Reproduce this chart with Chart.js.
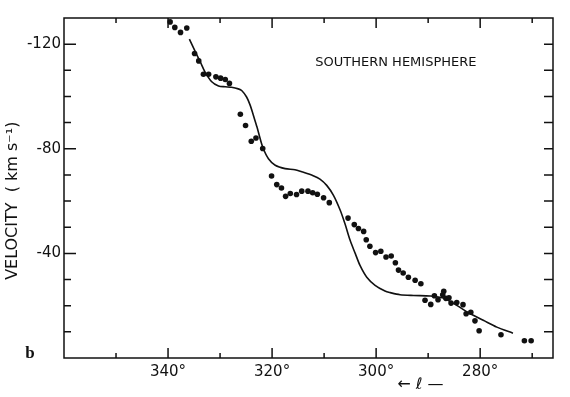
<!DOCTYPE html>
<html>
<head>
<meta charset="utf-8">
<script src="https://cdn.jsdelivr.net/npm/chart.js@4.4.1/dist/chart.umd.min.js"></script>
<style>
  html, body { margin: 0; padding: 0; background: #fff; }
  #wrap { width: 570px; height: 397px; }
</style>
</head>
<body>
<div id="wrap"><canvas id="chartjs"></canvas></div>
<script>
// observed HI points (galactic longitude, velocity)
const longitudes = [339.6, 338.7, 337.6, 336.4, 334.9, 334.1, 333.2, 332.2, 330.8, 329.9,
  329.0, 328.2, 326.1, 325.1, 324.0, 323.1, 321.8, 320.1, 319.1, 318.2,
  317.4, 316.5, 315.3, 314.3, 313.1, 312.2, 311.3, 310.1, 309.0, 305.4,
  304.2, 303.4, 302.4, 301.9, 301.2, 300.1, 299.1, 298.1, 297.1, 296.3,
  295.7, 294.8, 293.8, 292.5, 291.4, 290.6, 289.5, 288.8, 288.1, 287.2,
  287.0, 286.6, 286.0, 285.6, 284.5, 283.3, 282.7, 281.8, 281.0, 280.2,
  276.0, 271.5, 270.2];
const velocities = [-128.5, -126.4, -124.5, -126.2, -116.4, -113.6, -108.5, -108.5, -107.5, -107.0,
  -106.5, -105.0, -93.2, -88.9, -82.9, -84.1, -80.1, -69.6, -66.3, -65.0,
  -61.8, -62.9, -62.5, -63.8, -63.8, -63.2, -62.6, -61.3, -59.4, -53.5,
  -51.0, -49.5, -48.4, -45.2, -42.7, -40.3, -40.8, -38.6, -39.0, -36.4,
  -33.6, -32.5, -30.9, -29.7, -28.4, -22.1, -20.5, -23.8, -22.3, -24.2,
  -25.5, -22.8, -23.0, -21.0, -21.2, -20.4, -16.9, -17.5, -14.2, -10.4,
  -8.9, -6.6, -6.6];

// model curve
const modelLongitudes = [335.9, 334.9, 333.8, 332.9, 331.6, 330.3, 329.0, 327.8, 326.5, 325.8,
  324.9, 324.2, 323.6, 322.9, 322.3, 321.7, 320.7, 319.4, 317.5, 315.6,
  314.3, 312.1, 310.8, 309.5, 308.2, 306.9, 306.0, 305.0, 304.0, 303.1,
  301.8, 300.2, 298.3, 297.3, 295.4, 292.8, 289.6, 287.1, 284.5, 281.9,
  279.4, 276.8, 273.7];
const modelVelocities = [-121.9, -117.7, -113.2, -109.4, -105.6, -104.0, -103.7, -103.5, -102.9, -102.2,
  -99.8, -96.6, -92.8, -88.3, -83.9, -80.1, -76.2, -73.7, -72.4, -72.0,
  -71.2, -69.7, -68.4, -66.0, -62.2, -56.5, -51.4, -45.0, -39.9, -35.4,
  -30.9, -27.8, -25.6, -25.0, -24.2, -23.9, -23.7, -22.9, -20.1, -16.9,
  -14.4, -11.8, -9.5];

const xTickLabels = [340, 320, 300, 280];
const yTickLabels = [-120, -80, -40];
const panelTitle = "SOUTHERN HEMISPHERE";

const ink = "#111";
const fontFamily = "'DejaVu Sans', sans-serif";

const frameTicks = {
  id: "frameTicks",
  afterDraw(chart) {
    const { ctx, chartArea: a, scales: { x, y } } = chart;
    ctx.save();
    ctx.strokeStyle = ink;
    ctx.lineWidth = 1.5;
    ctx.strokeRect(a.left, a.top, a.right - a.left, a.bottom - a.top);
    ctx.beginPath();
    for (let v = 270; v <= 350; v += 10) {
      const px = x.getPixelForValue(v);
      const len = xTickLabels.includes(v) ? 10 : 5;
      ctx.moveTo(px, a.bottom);
      ctx.lineTo(px, a.bottom - len);
      ctx.moveTo(px, a.top);
      ctx.lineTo(px, a.top + len);
    }
    for (let v = -120; v <= -10; v += 10) {
      const py = y.getPixelForValue(v);
      const len = yTickLabels.includes(v) ? 12 : 7;
      ctx.moveTo(a.left, py);
      ctx.lineTo(a.left + len, py);
      ctx.moveTo(a.right, py);
      ctx.lineTo(a.right - 9, py);
    }
    ctx.stroke();

    ctx.fillStyle = ink;
    ctx.textAlign = "center";
    ctx.textBaseline = "middle";
    ctx.font = "13px " + fontFamily;
    ctx.fillText(panelTitle, x.getPixelForValue(296.2), y.getPixelForValue(-113.1));

    ctx.font = "16px " + fontFamily;
    ctx.fillText("\u2190 \u2113 \u2014", x.getPixelForValue(291.5), a.bottom + 27);

    ctx.font = "bold 17px 'Liberation Serif', serif";
    ctx.fillText("b", a.left - 34, a.bottom - 4);
    ctx.restore();
  }
};

const chart = new Chart(document.getElementById("chartjs"), {
  type: "scatter",
  data: {
    datasets: [
      {
        label: "model",
        data: modelLongitudes.map((l, i) => ({ x: l, y: modelVelocities[i] })),
        showLine: true,
        borderColor: ink,
        borderWidth: 1.6,
        pointRadius: 0,
        tension: 0.3
      },
      {
        label: "observed",
        data: longitudes.map((l, i) => ({ x: l, y: velocities[i] })),
        showLine: false,
        backgroundColor: ink,
        borderColor: ink,
        borderWidth: 0,
        pointRadius: 2.8
      }
    ]
  },
  options: {
    responsive: true,
    maintainAspectRatio: false,
    animation: false,
    layout: { padding: { top: 18, right: 17, left: 0, bottom: 0 } },
    plugins: {
      legend: { display: false },
      tooltip: { enabled: false }
    },
    scales: {
      x: {
        type: "linear",
        reverse: true,
        min: 266,
        max: 360,
        grid: { display: false, drawTicks: false },
        border: { display: false },
        afterFit: (scale) => { scale.height = 39; },
        ticks: {
          stepSize: 10,
          autoSkip: false,
          maxRotation: 0,
          padding: 5,
          color: ink,
          font: { family: fontFamily, size: 15 },
          callback: (v) => (xTickLabels.includes(v) ? v + "\u00b0" : "")
        }
      },
      y: {
        type: "linear",
        reverse: true,
        min: -130,
        max: 0,
        grid: { display: false, drawTicks: false },
        border: { display: false },
        afterFit: (scale) => { scale.width = 64; },
        title: {
          display: true,
          // trailing spaces push the rotated label down, as in the original
          text: "VELOCITY  ( km s\u207b\u00b9)\u00a0\u00a0\u00a0\u00a0\u00a0",
          color: ink,
          font: { family: fontFamily, size: 16 },
          padding: { top: 3, bottom: 0 }
        },
        ticks: {
          stepSize: 10,
          autoSkip: false,
          padding: 3,
          color: ink,
          font: { family: fontFamily, size: 15 },
          callback: (v) => (yTickLabels.includes(v) ? String(v) : "")
        }
      }
    }
  },
  plugins: [frameTicks]
});
</script>
</body>
</html>
